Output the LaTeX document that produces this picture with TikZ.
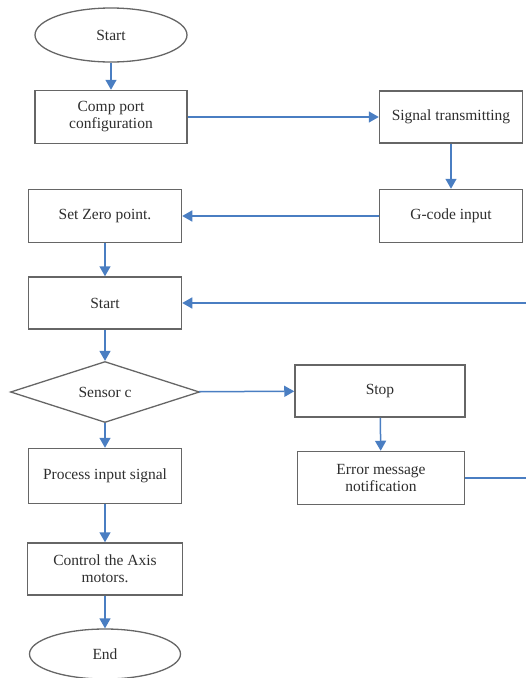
\documentclass[tikz,border=0pt]{standalone}
\usepackage{fontspec}
\setmainfont{Liberation Serif}
\usetikzlibrary{shapes.geometric,arrows.meta}
\definecolor{boxline}{HTML}{666666}
\definecolor{arrowblue}{HTML}{4A7EC2}
\definecolor{txt}{HTML}{2E2E2E}
\tikzset{
  box/.style={draw=boxline, line width=1.5pt, rectangle, align=center, text=txt,
    font=\fontsize{15.5}{17}\selectfont, inner sep=2pt},
  oval/.style={draw=boxline, line width=1.3pt, ellipse, text=txt,
    font=\fontsize{15.5}{17}\selectfont, inner sep=0pt},
  decision/.style={draw=boxline, line width=1.3pt, diamond, aspect=3, text=txt,
    font=\fontsize{15.5}{17}\selectfont, inner sep=0pt},
  flow/.style={draw=arrowblue, line width=1.5pt, -{Triangle[length=10pt,width=11pt]}},
  plainflow/.style={draw=arrowblue, line width=1.5pt}
}
\begin{document}
\begin{tikzpicture}[x=1pt,y=-1pt]
\useasboundingbox (0,0) rectangle (526,678);
\clip (0,0) rectangle (526,678);
\node[oval, minimum width=152pt, minimum height=54pt] (start) at (111,35) {Start};
\node[box, minimum width=152pt, minimum height=53pt] (comp) at (111,117) {Comp port\\configuration};
\node[box, minimum width=143pt, minimum height=52pt] (sig) at (451,117) {Signal transmitting};
\node[box, minimum width=143pt, minimum height=53pt] (gcode) at (451,216) {G-code input};
\node[box, minimum width=153pt, minimum height=53pt] (zero) at (105,216) {Set Zero point.};
\node[box, minimum width=153pt, minimum height=52pt] (start2) at (105,303) {Start};
\node[decision, minimum width=189pt, minimum height=61pt] (sensor) at (105,392) {Sensor c};
\node[box, minimum width=170pt, minimum height=52pt] (stop) at (380,391) {Stop};
\node[box, minimum width=167pt, minimum height=53pt] (err) at (381,478) {Error message\\notification};
\node[box, minimum width=153pt, minimum height=55pt] (proc) at (105,476) {Process input signal};
\node[box, minimum width=155pt, minimum height=52pt] (ctrl) at (105,569) {Control the Axis\\motors.};
\node[oval, minimum width=151pt, minimum height=50pt] (end) at (105,654) {End};
\coordinate (loop) at (545,390);

\draw[flow] (start) -- (comp);
\draw[flow] (comp) -- (sig);
\draw[flow] (sig) -- (gcode);
\draw[flow] (gcode) -- (zero);
\draw[flow] (zero) -- (start2);
\draw[flow] (start2) -- (sensor);
\draw[flow] (sensor) -- (stop);
\draw[flow] (stop) -- (err);
\draw[flow] (sensor) -- (proc);
\draw[flow] (proc) -- (ctrl);
\draw[flow] (ctrl) -- (end);
\draw[plainflow] (err.east) -- (err.east -| loop) -- (loop |- start2.east);
\draw[flow] (loop |- start2.east) -- (start2.east);
\end{tikzpicture}
\end{document}
